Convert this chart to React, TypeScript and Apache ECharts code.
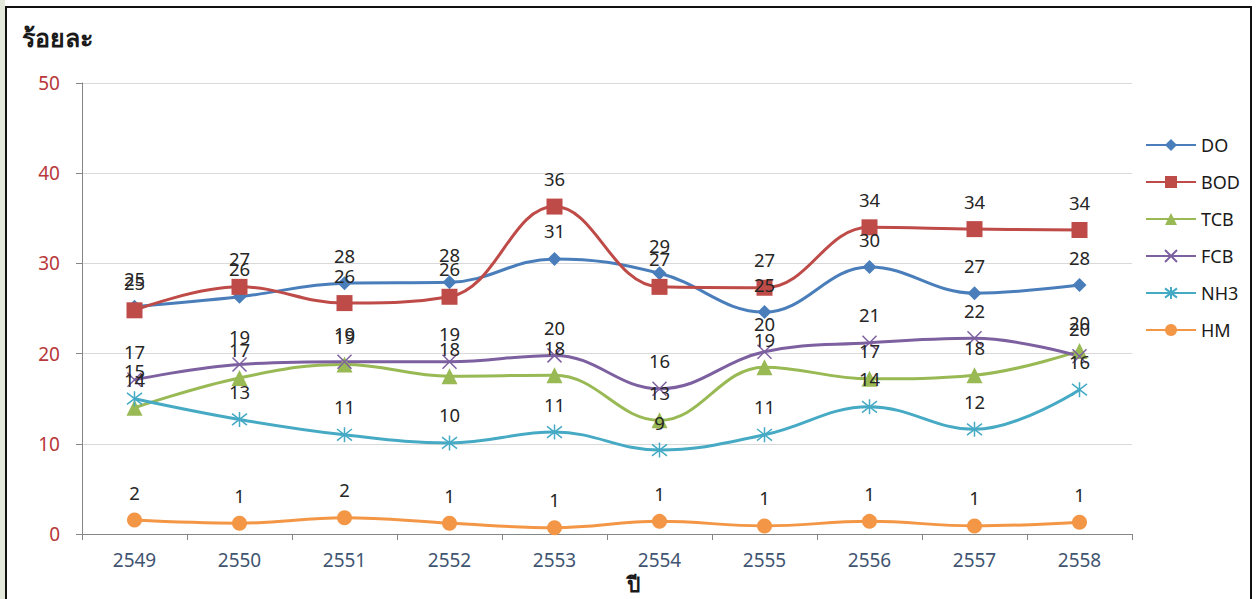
import React, { useEffect, useRef } from "react";
import * as echarts from "echarts";

const years = ["2549", "2550", "2551", "2552", "2553", "2554", "2555", "2556", "2557", "2558"];
const doValues = [25.2, 26.3, 27.8, 27.9, 30.5, 28.9, 24.6, 29.6, 26.7, 27.6];
const bodValues = [24.8, 27.4, 25.6, 26.3, 36.3, 27.4, 27.3, 34.0, 33.8, 33.7];
const tcbValues = [14.0, 17.3, 18.8, 17.5, 17.6, 12.6, 18.5, 17.2, 17.6, 20.3];
const fcbValues = [17.1, 18.8, 19.1, 19.1, 19.8, 16.1, 20.2, 21.2, 21.7, 19.7];
const nh3Values = [15.0, 12.7, 11.0, 10.1, 11.3, 9.3, 11.0, 14.1, 11.6, 16.0];
const hmValues = [1.55, 1.2, 1.8, 1.2, 0.7, 1.4, 0.9, 1.4, 0.9, 1.3];
const yTicks = { min: 0, max: 50, interval: 10 };

const FONT = "'Noto Sans', 'Open Sans', 'DejaVu Sans', sans-serif";

export default function App() {
  const ref = useRef<HTMLDivElement>(null);
  useEffect(() => {
    if (!ref.current) return;
    const chart = echarts.init(ref.current, undefined, { renderer: "svg" });
    const label = {
      show: true,
      position: "inside",
      offset: [0, -28],
      fontSize: 18.5,
      color: "#262626",
      fontFamily: FONT,
      formatter: (p: any) => String(Math.round(p.value)),
    };
    const mk = (name: string, data: number[], color: string, symbol: string, size: number, extra: any = {}) => ({
      name,
      type: "line",
      data,
      smooth: 0.4,
      symbol,
      symbolSize: size,
      lineStyle: { color, width: 3 },
      itemStyle: { color, borderColor: color, borderWidth: extra.bw ?? 0 },
      label,
      emphasis: { disabled: true },
      z: extra.z ?? 2,
    });
    const xPath = "path://M0,0L10,10M10,0L0,10";
    const starPath = "path://M0,0L10,10M10,0L0,10M5,-1.5L5,11.5";
    chart.setOption({
      animation: false,
      backgroundColor: "#ffffff",
      legend: {
        orient: "vertical",
        left: 1140,
        top: 131,
        itemWidth: 50,
        itemHeight: 15,
        itemGap: 19,
        textStyle: { fontSize: 18, color: "#1a1a1a", fontFamily: FONT },
        data: ["DO", "BOD", "TCB", "FCB", "NH3", "HM"],
      },
      grid: { left: 82, top: 83, right: 124, bottom: 65, outerBoundsMode: "none" },
      xAxis: {
        type: "category",
        data: years,
        boundaryGap: true,
        axisLine: { lineStyle: { color: "#868686", width: 1 } },
        axisTick: { show: true, length: 6, lineStyle: { color: "#868686" } },
        axisLabel: { fontSize: 19, color: "#3f5571", margin: 16, fontFamily: FONT },
      },
      yAxis: {
        type: "value",
        min: yTicks.min,
        max: yTicks.max,
        interval: yTicks.interval,
        axisLine: { show: true, lineStyle: { color: "#868686", width: 1 } },
        axisTick: { show: true, length: 6, lineStyle: { color: "#868686" } },
        axisLabel: { fontSize: 19, color: "#b8373a", margin: 22, fontFamily: FONT },
        splitLine: { lineStyle: { color: "#d9d9d9", width: 1 } },
      },
      series: [
        mk("DO", doValues, "#4a7ebb", "diamond", 14),
        mk("BOD", bodValues, "#be4b48", "rect", 16),
        mk("TCB", tcbValues, "#98b954", "triangle", 16),
        mk("FCB", fcbValues, "#7d60a0", xPath, 14, { bw: 1.5 }),
        mk("NH3", nh3Values, "#46aac5", starPath, 15, { bw: 1.5 }),
        mk("HM", hmValues, "#f39646", "circle", 15),
      ],
      graphic: [
        {
          type: "rect",
          shape: { x: 0, y: 0, width: 5, height: 599 },
          style: { fill: "#e3eadc" },
          silent: true,
        },
        {
          type: "rect",
          shape: { x: 6, y: 7, width: 1245, height: 600 },
          style: { fill: "none", stroke: "#111111", lineWidth: 2 },
          silent: true,
        },
        {
          type: "text",
          x: 22,
          y: 37,
          style: {
            text: "ร้อยละ",
            fontSize: 25,
            fontWeight: "bold",
            fill: "#1a1a1a",
            fontFamily: FONT,
            align: "left",
            verticalAlign: "middle",
          },
          silent: true,
        },
        {
          type: "text",
          x: 633,
          y: 584,
          style: {
            text: "ปี",
            fontSize: 21,
            fontWeight: "bold",
            fill: "#1a1a1a",
            fontFamily: FONT,
            align: "center",
            verticalAlign: "middle",
          },
          silent: true,
        },
      ],
    });
    return () => chart.dispose();
  }, []);
  return (
    <div
      ref={ref}
      style={{ position: "fixed", left: 0, top: 0, width: 1256, height: 599, background: "#fff" }}
    />
  );
}
